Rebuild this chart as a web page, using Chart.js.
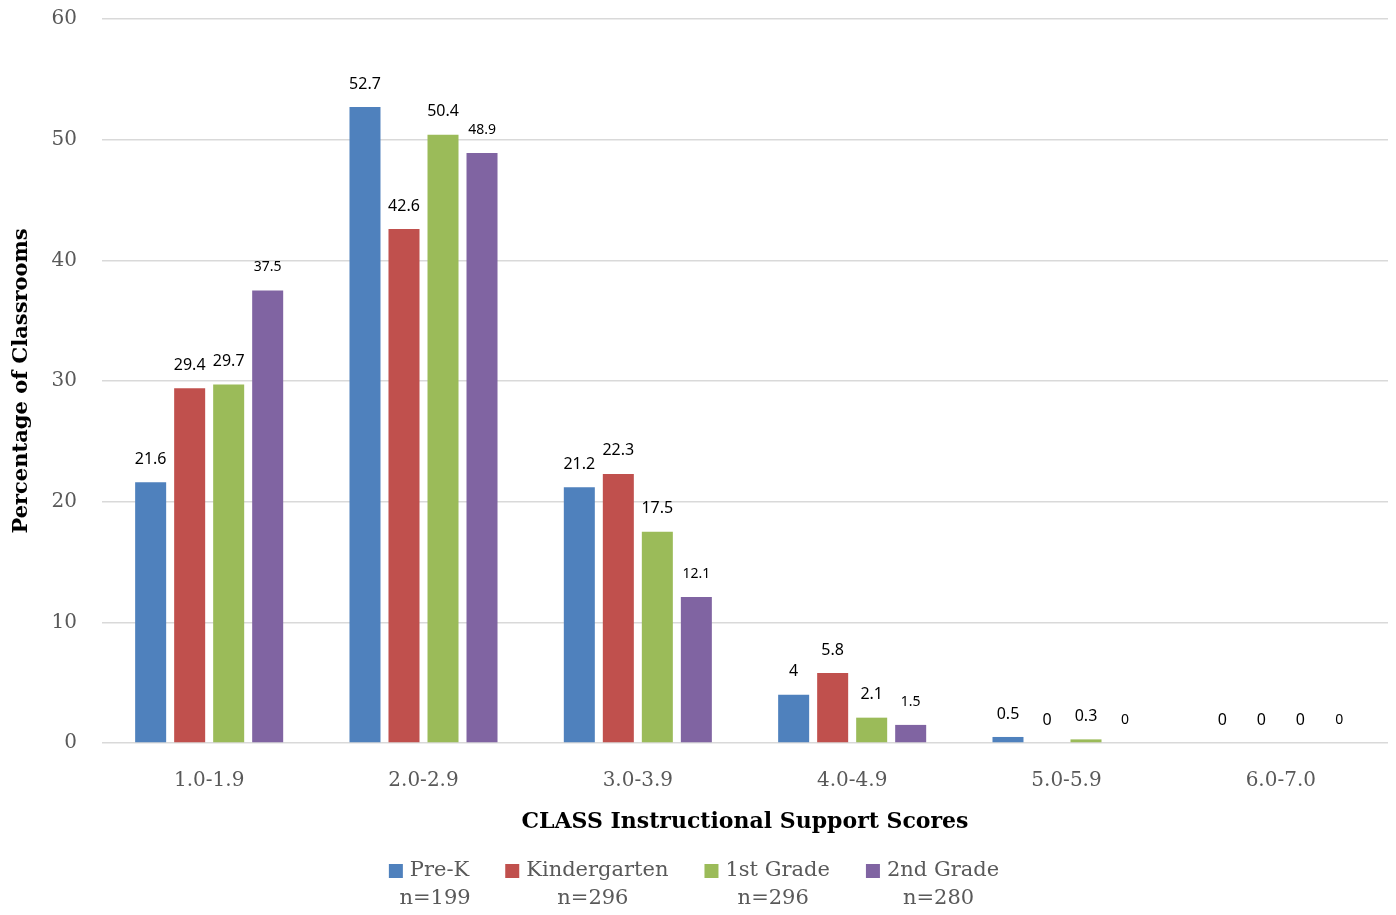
<!DOCTYPE html>
<html>
<head>
<meta charset="utf-8">
<script src="https://cdn.jsdelivr.net/npm/chart.js@4.4.0/dist/chart.umd.min.js"></script>
<style>
  html, body { margin: 0; padding: 0; background: #ffffff; }
  #wrap { width: 1396px; height: 915px; }
</style>
</head>
<body>
<div id="wrap"><canvas id="chart" width="1396" height="915"></canvas></div>
<script>
// Score bands on the x axis
const scoreBands = ['1.0-1.9', '2.0-2.9', '3.0-3.9', '4.0-4.9', '5.0-5.9', '6.0-7.0'];

// Percentage of classrooms in each band, per grade
const preK         = [21.6, 52.7, 21.2, 4.0, 0.5, 0];
const kindergarten = [29.4, 42.6, 22.3, 5.8, 0, 0];
const firstGrade   = [29.7, 50.4, 17.5, 2.1, 0.3, 0];
const secondGrade  = [37.5, 48.9, 12.1, 1.5, 0, 0];

// Legend names and sample sizes
const gradeNames   = ['Pre-K', 'Kindergarten', '1st Grade', '2nd Grade'];
const sampleSizes  = ['n=199', 'n=296', 'n=296', 'n=280'];

// Y axis range
const yTicks = { min: 0, max: 60, step: 10 };

const colors = ['#4F81BD', '#C0504D', '#9BBB59', '#8064A2'];
const SERIF = '"DejaVu Serif", "Liberation Serif", serif';
const SANS = '"Noto Sans", "Open Sans", sans-serif';
const GREY_TEXT = '#595959';

const series = [preK, kindergarten, firstGrade, secondGrade];

// Value labels above each bar
const valueLabels = {
  id: 'valueLabels',
  afterDatasetsDraw(chart) {
    const ctx = chart.ctx;
    ctx.save();
    ctx.textAlign = 'center';
    ctx.textBaseline = 'middle';
    ctx.fillStyle = '#000000';
    chart.data.datasets.forEach((ds, di) => {
      const meta = chart.getDatasetMeta(di);
      ctx.font = (di === 3 ? '14px ' : '16px ') + SANS;
      meta.data.forEach((bar, i) => {
        const v = ds.data[i];
        ctx.fillText(String(v), bar.x, bar.y - 23);
      });
    });
    ctx.restore();
  }
};

// Two-line legend at the bottom (name, then sample size)
const twoLineLegend = {
  id: 'twoLineLegend',
  afterDraw(chart) {
    const ctx = chart.ctx;
    ctx.save();
    ctx.font = '21px ' + SERIF;
    const box = 14, boxGap = 7, itemGap = 36;
    const widths = gradeNames.map(n => box + boxGap + ctx.measureText(n).width);
    const total = widths.reduce((a, b) => a + b, 0) + itemGap * (widths.length - 1);
    let x = (chart.width - total) / 2 - 4;
    const y1 = 871, y2 = 899;
    ctx.textBaseline = 'middle';
    gradeNames.forEach((name, i) => {
      ctx.fillStyle = colors[i];
      ctx.fillRect(x, y1 - box / 2, box, box);
      ctx.fillStyle = GREY_TEXT;
      ctx.textAlign = 'left';
      ctx.fillText(name, x + box + boxGap, y1);
      ctx.textAlign = 'center';
      ctx.fillText(sampleSizes[i], x + widths[i] / 2 + 6, y2);
      x += widths[i] + itemGap;
    });
    ctx.restore();
  }
};

new Chart(document.getElementById('chart'), {
  type: 'bar',
  data: {
    labels: scoreBands,
    datasets: gradeNames.map((name, i) => ({
      label: name,
      data: series[i],
      backgroundColor: colors[i],
      borderWidth: 0,
      categoryPercentage: 0.728,
      barPercentage: 0.795
    }))
  },
  options: {
    responsive: false,
    animation: false,
    devicePixelRatio: 1,
    layout: { padding: { top: 19, right: 8, bottom: 0, left: 0 } },
    plugins: {
      legend: { display: false },
      tooltip: { enabled: false }
    },
    scales: {
      x: {
        grid: { display: false, drawTicks: false },
        border: { display: false },
        ticks: { color: GREY_TEXT, font: { family: SERIF, size: 20 }, padding: 26 },
        title: {
          display: true,
          text: 'CLASS Instructional Support Scores',
          color: '#000000',
          font: { family: SERIF, size: 22, weight: 'bold' },
          padding: { top: 0, bottom: 80 }
        },
        afterFit(scale) { scale.height = 915 - 743; }
      },
      y: {
        min: yTicks.min,
        max: yTicks.max,
        grid: { color: '#D9D9D9', lineWidth: 1.5, drawTicks: false },
        border: { display: false },
        ticks: { stepSize: yTicks.step, color: GREY_TEXT, font: { family: SERIF, size: 20 }, padding: 25 },
        title: {
          display: true,
          text: 'Percentage of Classrooms',
          color: '#000000',
          font: { family: SERIF, size: 21, weight: 'bold' },
          padding: { top: 9, bottom: 0 }
        },
        afterFit(scale) {
          scale.width = 102;
          scale.paddingTop = 0;
          scale.paddingBottom = 0;
        }
      }
    }
  },
  plugins: [valueLabels, twoLineLegend]
});
</script>
</body>
</html>
